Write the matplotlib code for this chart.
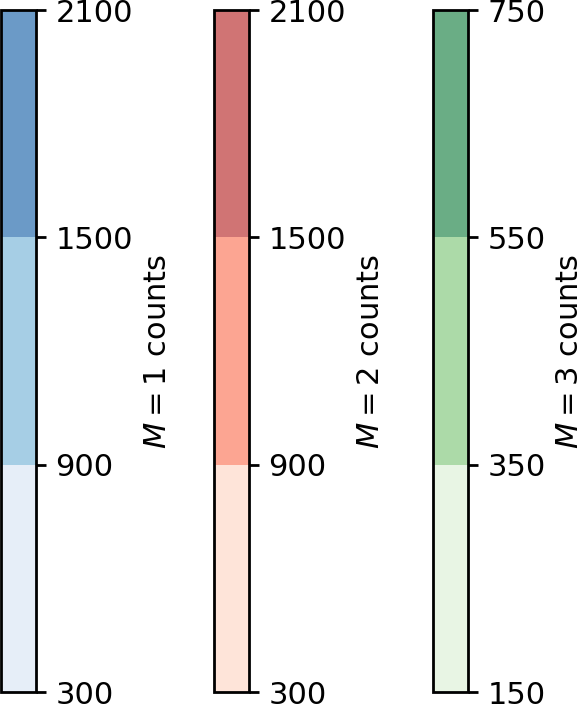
import matplotlib
matplotlib.use("Agg")
import matplotlib.pyplot as plt
import matplotlib as mpl
from matplotlib.colors import ListedColormap, BoundaryNorm

# bin edges for each multiplicity
bounds_m1 = [300, 900, 1500, 2100]
bounds_m2 = [300, 900, 1500, 2100]
bounds_m3 = [150, 350, 550, 750]
labels = ["$M = 1$ counts", "$M = 2$ counts", "$M = 3$ counts"]

colors_m1 = ["#e6eef8", "#a6cee5", "#6b9ac7"]
colors_m2 = ["#fee4d9", "#fca592", "#d07474"]
colors_m3 = ["#e8f5e4", "#acdaa8", "#6aad85"]

fig = plt.figure(figsize=(5.81 / 2, 7.04 / 2), dpi=200)

lefts = [1 / 581, 214 / 581, 433 / 581]
w = 35 / 581
bot = 12 / 704
h = 682 / 704

for left, b, c, lab in zip(lefts, [bounds_m1, bounds_m2, bounds_m3],
                           [colors_m1, colors_m2, colors_m3], labels):
    cax = fig.add_axes([left, bot, w, h])
    cmap = ListedColormap(c)
    norm = BoundaryNorm(b, cmap.N)
    cb = mpl.colorbar.ColorbarBase(cax, cmap=cmap, norm=norm, ticks=b,
                                   orientation="vertical")
    cb.outline.set_linewidth(1.0)
    cb.set_label(lab, fontsize=11, labelpad=3.5)
    cax.tick_params(labelsize=11, width=1.0)

fig.savefig("out.png", dpi=200)
